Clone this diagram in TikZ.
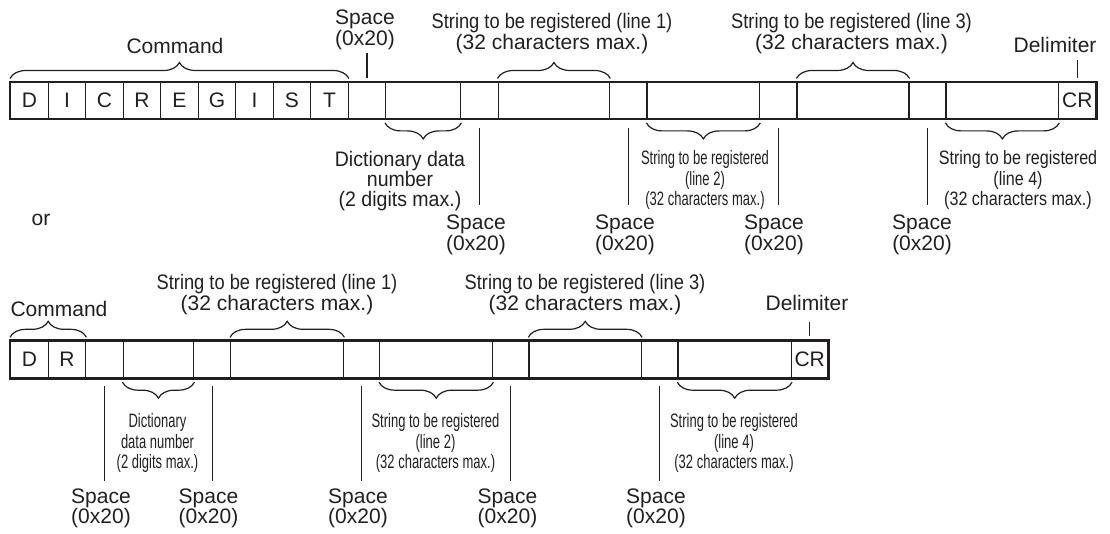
\documentclass[tikz,border=0pt]{standalone}
\usepackage{fontspec}
\setmainfont{Liberation Sans}
\newfontfamily\condfont[FakeStretch=0.67]{Liberation Sans}
\newfontfamily\midfont[FakeStretch=0.83]{Liberation Sans}
\newfontfamily\longfont[FakeStretch=0.87]{Liberation Sans}
\newfontfamily\dictfont[FakeStretch=0.93]{Liberation Sans}
\usetikzlibrary{decorations.pathreplacing}
\definecolor{ink}{HTML}{231F20}
\begin{document}
\begin{tikzpicture}[x=1pt,y=1pt,
  cell/.style={draw=ink, line width=1.4pt, minimum height=36pt, inner sep=0pt, anchor=west, text=ink, font=\fontsize{21}{21}\selectfont},
  lbl/.style={inner sep=0pt, align=center, text=ink, font=\fontsize{21}{21}\selectfont},
  smalllbl/.style={inner sep=0pt, align=center, text=ink, font=\condfont\fontsize{19.4}{20.8}\selectfont},
  brc/.style={draw=ink, line width=1.2pt, decorate, decoration={brace, amplitude=16pt}},
  tick/.style={draw=ink, line width=1.1pt},
  frame/.style={draw=ink, line width=2.1pt}]
\useasboundingbox (0,0) rectangle (1110,-534);

% ---------- top row ----------
\node[cell, minimum width=37.5pt] (t1) at (10,-100.7) {D};
\node[cell, minimum width=37.5pt] (t2) at (47.5,-100.7) {I};
\node[cell, minimum width=37.5pt] (t3) at (85,-100.7) {C};
\node[cell, minimum width=37.5pt] (t4) at (122.5,-100.7) {R};
\node[cell, minimum width=37.5pt] (t5) at (160,-100.7) {E};
\node[cell, minimum width=37.5pt] (t6) at (197.5,-100.7) {G};
\node[cell, minimum width=37.5pt] (t7) at (235,-100.7) {I};
\node[cell, minimum width=37.5pt] (t8) at (272.5,-100.7) {S};
\node[cell, minimum width=37.5pt] (t9) at (310,-100.7) {T};
\node[cell, minimum width=37.5pt] (ts1) at (347.5,-100.7) {};
\node[cell, minimum width=75pt] (tdn) at (385,-100.7) {};
\node[cell, minimum width=37.5pt] (ts2) at (460,-100.7) {};
\node[cell, minimum width=111.5pt] (tl1) at (497.5,-100.7) {};
\node[cell, minimum width=37.4pt] (ts3) at (609,-100.7) {};
\node[cell, minimum width=112.5pt] (tl2) at (646.4,-100.7) {};
\node[cell, minimum width=37.5pt] (ts4) at (758.9,-100.7) {};
\node[cell, minimum width=111.8pt] (tl3) at (796.4,-100.7) {};
\node[cell, minimum width=37.2pt] (ts5) at (908.2,-100.7) {};
\node[cell, minimum width=112.5pt] (tl4) at (945.4,-100.7) {};
\node[cell, minimum width=37.5pt] (tcr) at (1057.9,-100.7) {CR};
\draw[frame] (t1.north west) rectangle (tcr.south east);

% braces top row
\draw[brc] ([yshift=3.5pt]t1.north west) -- ([yshift=3.5pt]t9.north east);
\draw[brc] ([yshift=3.5pt]tl1.north west) -- ([yshift=3.5pt]tl1.north east);
\draw[brc] ([yshift=3.5pt]tl3.north west) -- ([yshift=3.5pt]tl3.north east);
\draw[brc] ([yshift=-3.5pt]tdn.south east) -- ([yshift=-3.5pt]tdn.south west);
\draw[brc] ([yshift=-3.5pt]tl2.south east) -- ([yshift=-3.5pt]tl2.south west);
\draw[brc] ([yshift=-3.5pt]tl4.south east) -- ([yshift=-3.5pt]tl4.south west);

% ticks top row
\draw[tick] ([yshift=4pt]ts1.north) -- ([yshift=29pt]ts1.north);
\draw[tick] ([yshift=4pt]tcr.north) -- ([yshift=22pt]tcr.north);
\draw[tick] ([yshift=-9pt]ts2.south) -- ([yshift=-86pt]ts2.south);
\draw[tick] ([yshift=-9pt]ts3.south) -- ([yshift=-86pt]ts3.south);
\draw[tick] ([yshift=-9pt]ts4.south) -- ([yshift=-86pt]ts4.south);
\draw[tick] ([yshift=-9pt]ts5.south) -- ([yshift=-86pt]ts5.south);

% labels top row
\node[lbl] (cmdT) at (175,-46) {Command};
\node[lbl, font=\fontsize{21}{18}\selectfont] (spT0) at (365,-30) {Space\\(0x20)};
\node[lbl] (l1T) at (552,-34) {{\longfont String to be registered (line 1)}\\(32 characters max.)};
\node[lbl] (l3T) at (851.5,-34) {{\longfont String to be registered (line 3)}\\(32 characters max.)};
\node[lbl] (delT) at (1055,-45) {Delimiter};
\node[lbl, font=\dictfont\fontsize{21}{20}\selectfont] (dnT) at (400,-181) {Dictionary data\\number\\(2 digits max.)};
\node[lbl] (spT1) at (476,-234.5) {Space\\(0x20)};
\node[lbl] (spT2) at (625,-234.5) {Space\\(0x20)};
\node[lbl] (spT3) at (774,-234.5) {Space\\(0x20)};
\node[lbl] (spT4) at (922,-234.5) {Space\\(0x20)};
\node[smalllbl] (l2T) at (705,-180) {String to be registered\\(line 2)\\(32 characters max.)};
\node[smalllbl, font=\midfont\fontsize{19.4}{20.8}\selectfont] (l4T) at (1018,-180) {String to be registered\\(line 4)\\(32 characters max.)};
\node[lbl] (orlbl) at (41,-220) {or};

% ---------- bottom row ----------
\node[cell, minimum height=37pt, minimum width=37.5pt] (b1) at (10,-359.5) {D};
\node[cell, minimum height=37pt, minimum width=37.5pt] (b2) at (47.5,-359.5) {R};
\node[cell, minimum height=37pt, minimum width=37.5pt] (bs1) at (85,-359.5) {};
\node[cell, minimum height=37pt, minimum width=70.5pt] (bdn) at (122.5,-359.5) {};
\node[cell, minimum height=37pt, minimum width=37pt] (bs2) at (193,-359.5) {};
\node[cell, minimum height=37pt, minimum width=113pt] (bl1) at (230,-359.5) {};
\node[cell, minimum height=37pt, minimum width=36pt] (bs3) at (343,-359.5) {};
\node[cell, minimum height=37pt, minimum width=113pt] (bl2) at (379,-359.5) {};
\node[cell, minimum height=37pt, minimum width=36.3pt] (bs4) at (492,-359.5) {};
\node[cell, minimum height=37pt, minimum width=112.4pt] (bl3) at (528.3,-359.5) {};
\node[cell, minimum height=37pt, minimum width=36.6pt] (bs5) at (640.7,-359.5) {};
\node[cell, minimum height=37pt, minimum width=113.4pt] (bl4) at (677.3,-359.5) {};
\node[cell, minimum height=37pt, minimum width=36.6pt] (bcr) at (790.7,-359.5) {CR};
\draw[frame] (b1.north west) rectangle (bcr.south east);

% braces bottom row
\draw[brc] ([yshift=3pt]b1.north west) -- ([yshift=3pt]b2.north east);
\draw[brc] ([yshift=3pt]bl1.north west) -- ([yshift=3pt]bl1.north east);
\draw[brc] ([yshift=3pt]bl3.north west) -- ([yshift=3pt]bl3.north east);
\draw[brc] ([yshift=-3.5pt]bdn.south east) -- ([yshift=-3.5pt]bdn.south west);
\draw[brc] ([yshift=-3.5pt]bl2.south east) -- ([yshift=-3.5pt]bl2.south west);
\draw[brc] ([yshift=-3.5pt]bl4.south east) -- ([yshift=-3.5pt]bl4.south west);

% ticks bottom row
\draw[tick] ([yshift=4pt]bcr.north) -- ([yshift=18pt]bcr.north);
\draw[tick] ([yshift=-7pt]bs1.south) -- ([yshift=-102pt]bs1.south);
\draw[tick] ([yshift=-7pt]bs2.south) -- ([yshift=-102pt]bs2.south);
\draw[tick] ([yshift=-7pt]bs3.south) -- ([yshift=-102pt]bs3.south);
\draw[tick] ([yshift=-7pt]bs4.south) -- ([yshift=-102pt]bs4.south);
\draw[tick] ([yshift=-7pt]bs5.south) -- ([yshift=-102pt]bs5.south);

% labels bottom row
\node[lbl] (cmdB) at (59,-309) {Command};
\node[lbl] (l1B) at (277,-294.5) {{\longfont String to be registered (line 1)}\\(32 characters max.)};
\node[lbl] (l3B) at (585,-294.5) {{\longfont String to be registered (line 3)}\\(32 characters max.)};
\node[lbl] (delB) at (807,-303) {Delimiter};
\node[smalllbl] (dnB) at (157.5,-443) {Dictionary\\data number\\(2 digits max.)};
\node[smalllbl] (l2B) at (435.5,-443) {String to be registered\\(line 2)\\(32 characters max.)};
\node[smalllbl] (l4B) at (734,-443) {String to be registered\\(line 4)\\(32 characters max.)};
\node[lbl, font=\fontsize{21}{17}\selectfont] (spB1) at (101,-508.5) {Space\\(0x20)};
\node[lbl, font=\fontsize{21}{17}\selectfont] (spB2) at (208.5,-508.5) {Space\\(0x20)};
\node[lbl, font=\fontsize{21}{17}\selectfont] (spB3) at (358,-508.5) {Space\\(0x20)};
\node[lbl, font=\fontsize{21}{17}\selectfont] (spB4) at (507.5,-508.5) {Space\\(0x20)};
\node[lbl, font=\fontsize{21}{17}\selectfont] (spB5) at (656,-508.5) {Space\\(0x20)};
\end{tikzpicture}
\end{document}
